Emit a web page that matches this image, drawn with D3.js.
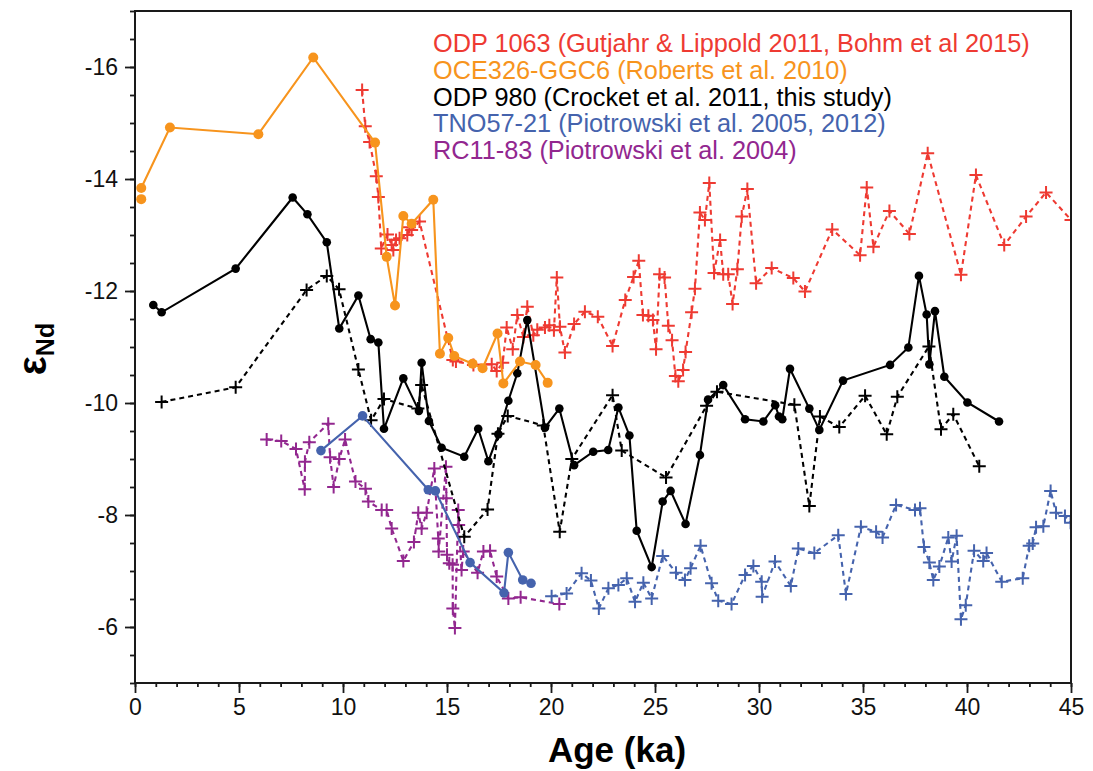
<!DOCTYPE html>
<html>
<head>
<meta charset="utf-8">
<script src="https://cdn.jsdelivr.net/npm/d3@7"></script>
<style>
  body { margin: 0; background: #fff; }
  svg { font-family: Helvetica, Arial, "Liberation Sans", sans-serif; }
</style>
</head>
<body>
<div id="chart"></div>
<script>
// ODP 1063 (red, dashed +)
const odp1063Age = [10.92, 11.07, 11.28, 11.60, 11.70, 11.84, 12.14, 12.34, 12.42, 12.55, 12.72, 13.09, 13.19, 13.30, 13.68,
  15.28, 15.43, 16.27, 17.15, 17.39, 17.68, 17.87, 18.16, 18.38, 18.67, 18.86, 19.15, 19.34, 19.71, 19.92, 20.14, 20.28,
  20.43, 20.67, 21.11, 21.63, 22.25, 22.96, 23.57, 23.97, 24.22, 24.42, 24.68, 24.90, 25.05, 25.22, 25.46, 25.64, 25.82,
  25.98, 26.12, 26.35, 26.47, 26.76, 26.92, 27.16, 27.40, 27.61, 27.84, 28.13, 28.28, 28.52, 28.73, 28.96, 29.17, 29.44,
  29.86, 30.61, 31.65, 32.21, 33.52, 34.86, 35.18, 35.50, 36.27, 37.23, 38.11, 39.71, 40.43, 41.79, 42.84, 43.80, 45.0];
const odp1063Nd = [-15.59, -14.94, -14.66, -14.05, -13.68, -12.76, -13.01, -12.82, -12.73, -12.91, -12.94, -13.00, -13.14, -13.09, -13.24,
  -10.77, -10.74, -10.68, -10.69, -10.57, -10.72, -11.35, -10.96, -11.57, -11.18, -11.72, -11.21, -11.31, -11.35, -11.39, -11.30, -12.24,
  -11.36, -10.90, -11.41, -11.63, -11.54, -11.02, -11.84, -12.25, -12.54, -11.57, -11.56, -11.48, -10.96, -12.30, -12.24, -11.38, -11.12,
  -10.48, -10.39, -10.59, -10.91, -11.62, -12.04, -13.40, -13.27, -13.93, -12.32, -12.91, -12.30, -12.30, -11.77, -12.39, -13.33, -13.82,
  -12.14, -12.41, -12.23, -11.99, -13.10, -12.64, -13.85, -12.79, -13.43, -13.02, -14.46, -12.29, -14.07, -12.82, -13.33, -13.76, -13.27];

// OCE326-GGC6 (orange, solid dots)
const oceAge = [0.30, 0.30, 1.68, 5.93, 8.57, 11.54, 12.10, 12.50, 12.90, 13.30, 14.34, 14.66, 15.06, 15.35, 16.23, 16.71, 17.43, 17.71, 18.51, 19.26, 19.84];
const oceNd = [-13.64, -13.84, -14.92, -14.80, -16.17, -14.65, -12.61, -11.74, -13.34, -13.20, -13.63, -10.88, -11.16, -10.84, -10.70, -10.62, -11.24, -10.35, -10.74, -10.68, -10.36];

// ODP 980 (black, solid dots)
const odp980Age = [0.88, 1.28, 4.84, 7.58, 8.29, 9.22, 9.82, 10.74, 11.33, 11.70, 11.97, 12.90, 13.65, 13.78, 14.13, 14.74,
  15.83, 16.50, 16.99, 17.47, 17.95, 18.38, 18.86, 19.71, 20.40, 21.11, 22.03, 22.75, 23.24, 23.77, 24.12, 24.84, 25.37,
  25.75, 26.47, 27.16, 27.55, 28.28, 29.33, 30.21, 30.78, 30.96, 31.12, 31.49, 32.42, 32.90, 34.04, 36.30, 37.18, 37.69,
  38.06, 38.19, 38.46, 38.91, 40.02, 41.54];
const odp980Nd = [-11.75, -11.62, -12.40, -13.67, -13.37, -12.87, -11.33, -11.92, -11.14, -11.08, -9.54, -10.44, -9.86, -10.72, -9.68, -9.20,
  -9.04, -9.54, -8.96, -9.44, -10.04, -10.53, -11.48, -9.56, -9.90, -8.89, -9.13, -9.16, -9.92, -9.42, -7.72, -7.07, -8.24,
  -8.43, -7.84, -9.07, -10.06, -10.32, -9.71, -9.67, -9.96, -9.76, -9.71, -10.61, -9.90, -9.52, -10.40, -10.68, -10.99, -12.27,
  -11.58, -10.69, -11.64, -10.47, -10.01, -9.67];

// ODP 980 earlier record (black, dashed +)
const odp980bAge = [1.28, 4.84, 8.25, 9.22, 9.81, 10.74, 11.35, 11.97, 13.60, 13.78, 15.83, 16.95, 17.45, 17.92, 19.63, 20.42,
  21.00, 22.96, 23.40, 25.53, 27.48, 27.98, 31.70, 32.42, 32.93, 33.86, 35.10, 36.14, 36.65, 38.17, 38.75, 39.34, 40.59];
const odp980bNd = [-10.02, -10.28, -12.02, -12.27, -12.03, -10.60, -9.69, -10.07, -9.90, -10.32, -7.61, -8.10, -9.45, -9.77, -9.60, -7.70,
  -9.00, -10.14, -9.15, -8.67, -9.95, -10.20, -9.97, -8.16, -9.76, -9.57, -10.13, -9.44, -10.11, -11.01, -9.53, -9.80, -8.87];

// TNO57-21 (blue, solid dots)
const tnoAge = [8.94, 10.94, 14.10, 14.44, 16.11, 17.74, 17.95, 18.64, 19.04];
const tnoNd = [-9.15, -9.77, -8.45, -8.43, -7.15, -6.61, -7.33, -6.84, -6.78];

// TNO57-21 (blue, dashed +)
const tnoBAge = [20.03, 20.75, 21.47, 21.92, 22.30, 22.76, 23.24, 23.64, 24.04, 24.44, 24.84, 25.37, 26.01, 26.44, 26.71, 27.19,
  27.72, 28.04, 28.68, 29.33, 29.73, 30.13, 30.15, 30.77, 31.53, 31.89, 32.66, 33.81, 34.18, 34.90, 35.63, 35.94, 36.59,
  37.50, 37.74, 37.93, 38.19, 38.38, 38.67, 39.10, 39.26, 39.50, 39.71, 39.94, 40.34, 40.78, 40.94, 41.67, 42.68, 42.99,
  43.16, 43.32, 43.67, 44.02, 44.28, 44.71, 44.98];
const tnoBNd = [-6.55, -6.60, -6.96, -6.83, -6.33, -6.69, -6.75, -6.87, -6.45, -6.79, -6.51, -7.27, -6.97, -6.84, -7.05, -7.45,
  -6.78, -6.47, -6.41, -6.93, -7.09, -6.81, -6.54, -7.17, -6.73, -7.40, -7.32, -7.64, -6.59, -7.79, -7.70, -7.60, -8.18,
  -8.09, -8.12, -7.43, -7.15, -6.84, -7.08, -7.60, -7.17, -7.63, -6.14, -6.39, -7.36, -7.18, -7.32, -6.81, -6.87, -7.45,
  -7.49, -7.78, -7.80, -8.43, -8.04, -7.98, -7.86];

// RC11-83 (purple, dashed +)
const rcAge = [6.33, 7.03, 7.74, 8.16, 8.17, 8.38, 9.29, 9.38, 9.55, 9.82, 10.10, 10.60, 11.08, 11.22, 11.86, 12.10, 12.34,
  12.90, 13.41, 13.62, 13.78, 14.02, 14.39, 14.58, 14.60, 14.95, 14.97, 15.00, 15.11, 15.27, 15.28, 15.38, 15.54, 15.56,
  15.70, 15.78, 16.47, 16.75, 17.07, 17.39, 17.95, 18.54, 20.40];
const rcNd = [-9.35, -9.32, -9.18, -8.46, -8.95, -9.30, -9.63, -9.03, -8.50, -9.00, -9.35, -8.60, -8.47, -8.24, -8.09, -8.09, -7.76,
  -7.18, -7.52, -8.04, -7.76, -8.04, -8.83, -7.58, -7.35, -8.86, -8.30, -7.29, -7.14, -7.11, -6.33, -5.98, -8.09, -7.82,
  -7.02, -7.35, -6.97, -7.35, -7.36, -6.90, -6.51, -6.53, -6.41];

const legendLabels = [
  "ODP 1063 (Gutjahr & Lippold 2011, Bohm et al 2015)",
  "OCE326-GGC6 (Roberts et al. 2010)",
  "ODP 980 (Crocket et al. 2011, this study)",
  "TNO57-21 (Piotrowski et al. 2005, 2012)",
  "RC11-83 (Piotrowski et al. 2004)"
];

const RED = "#ee3a32", ORANGE = "#f7941d", BLACK = "#000000", BLUE = "#4563ad", PURPLE = "#92278f";
const legendColors = [RED, ORANGE, BLACK, BLUE, PURPLE];

const width = 1093, height = 771;
const margin = { top: 11, right: 22, bottom: 88, left: 135 };

const svg = d3.select("#chart").append("svg")
  .attr("width", width)
  .attr("height", height);

const x = d3.scaleLinear().domain([0, 45]).range([margin.left, width - margin.right]);
const y = d3.scaleLinear().domain([-17, -5]).range([margin.top, height - margin.bottom]);

svg.append("clipPath").attr("id", "plotclip")
  .append("rect")
  .attr("x", x(0)).attr("y", y(-17))
  .attr("width", x(45) - x(0)).attr("height", y(-5) - y(-17));

const zip = (a, b) => a.map((v, i) => [v, b[i]]);

const plot = svg.append("g").attr("clip-path", "url(#plotclip)");
const line = d3.line().x(d => x(d[0])).y(d => y(d[1]));
const plus = "M-6.5,0H6.5M0,-6.5V6.5";

function dashedSeries(data, color) {
  plot.append("path")
    .datum(data)
    .attr("fill", "none")
    .attr("stroke", color)
    .attr("stroke-width", 2.1)
    .attr("stroke-dasharray", "5,4")
    .attr("d", line);
  plot.selectAll(null)
    .data(data)
    .join("path")
    .attr("d", plus)
    .attr("transform", d => `translate(${x(d[0])},${y(d[1])})`)
    .attr("stroke", color)
    .attr("stroke-width", 2)
    .attr("fill", "none");
}

function solidSeries(data, color, r) {
  plot.append("path")
    .datum(data)
    .attr("fill", "none")
    .attr("stroke", color)
    .attr("stroke-width", 2.1)
    .attr("d", line);
  plot.selectAll(null)
    .data(data)
    .join("circle")
    .attr("cx", d => x(d[0]))
    .attr("cy", d => y(d[1]))
    .attr("r", r)
    .attr("fill", color);
}

dashedSeries(zip(rcAge, rcNd), PURPLE);
dashedSeries(zip(tnoBAge, tnoBNd), BLUE);
dashedSeries(zip(odp1063Age, odp1063Nd), RED);
dashedSeries(zip(odp980bAge, odp980bNd), BLACK);
solidSeries(zip(odp980Age, odp980Nd), BLACK, 4.3);
solidSeries(zip(tnoAge, tnoNd), BLUE, 4.8);
// the two core-top points are not joined by the line
plot.append("path")
  .datum(zip(oceAge, oceNd).slice(1))
  .attr("fill", "none")
  .attr("stroke", ORANGE)
  .attr("stroke-width", 2.1)
  .attr("d", line);
plot.selectAll(null)
  .data(zip(oceAge, oceNd))
  .join("circle")
  .attr("cx", d => x(d[0]))
  .attr("cy", d => y(d[1]))
  .attr("r", 5)
  .attr("fill", ORANGE);

// axes
const axisColor = "#1a1a1a";

const yMinor = d3.axisLeft(y).tickValues(d3.range(-17, -4.99, 0.5)).tickSize(5).tickSizeOuter(0).tickFormat("");
const yMajor = d3.axisLeft(y).tickValues([-16, -14, -12, -10, -8, -6]).tickSize(10).tickSizeOuter(0).tickPadding(7)
  .tickFormat(d => String(d));
const xMinor = d3.axisBottom(x).tickValues(d3.range(0, 46, 1)).tickSize(4).tickSizeOuter(0).tickFormat("");
const xMajor = d3.axisBottom(x).tickValues(d3.range(0, 46, 5)).tickSize(10).tickSizeOuter(0).tickPadding(6);

function styleAxis(g) {
  g.selectAll("line").attr("stroke", axisColor).attr("stroke-width", 1.8);
  g.select(".domain").remove();
  g.selectAll("text").attr("fill", "#111").style("font-size", "23px");
}

svg.append("g").attr("transform", `translate(${x(0)},0)`).call(yMinor).call(styleAxis);
svg.append("g").attr("transform", `translate(${x(0)},0)`).call(yMajor).call(styleAxis);
svg.append("g").attr("transform", `translate(0,${y(-5)})`).call(xMinor).call(styleAxis);
svg.append("g").attr("transform", `translate(0,${y(-5)})`).call(xMajor).call(styleAxis);

// frame
svg.append("rect")
  .attr("x", x(0)).attr("y", y(-17))
  .attr("width", x(45) - x(0)).attr("height", y(-5) - y(-17))
  .attr("fill", "none")
  .attr("stroke", axisColor)
  .attr("stroke-width", 2);

// axis titles
svg.append("text")
  .attr("x", 617)
  .attr("y", 762)
  .attr("text-anchor", "middle")
  .style("font-size", "35px")
  .style("font-weight", "bold")
  .text("Age (ka)");

const yTitle = svg.append("text")
  .attr("transform", `translate(46,${y(-11) + 2}) rotate(-90)`)
  .attr("text-anchor", "middle")
  .style("font-weight", "bold");
yTitle.append("tspan").style("font-size", "40px").text("ε");
yTitle.append("tspan").style("font-size", "25px").attr("dy", 8).text("Nd");

// legend
svg.append("g")
  .selectAll("text")
  .data(legendLabels)
  .join("text")
  .attr("x", 433)
  .attr("y", (d, i) => 52 + i * 26.8)
  .attr("fill", (d, i) => legendColors[i])
  .style("font-size", "25.3px")
  .text(d => d);
</script>
</body>
</html>
